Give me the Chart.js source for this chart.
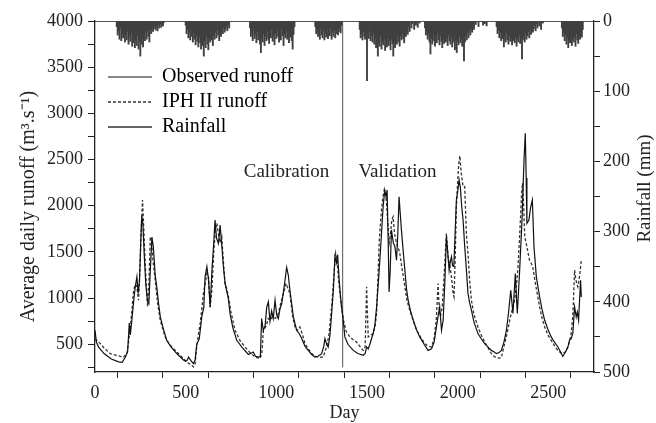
<!DOCTYPE html>
<html>
<head>
<meta charset="utf-8">
<script src="https://cdn.jsdelivr.net/npm/chart.js@4"></script>
<style>
  html, body { margin: 0; padding: 0; background: #fff; }
  #wrap { width: 656px; height: 423px; position: relative; }
</style>
</head>
<body>
<div id="wrap"><canvas id="chart"></canvas></div>
<script>
// observed runoff (day, m3/s)
const obsDay = [
  0, 8, 20, 50, 90, 130, 150, 167, 180, 189,
  195, 205, 215, 222, 231, 238, 245, 252, 258, 264,
  272, 280, 290, 297, 305, 314, 322, 332, 342, 350,
  360, 375, 396, 420, 451, 488, 500, 510, 516, 530,
  543, 552, 561, 575, 589, 600, 607, 617, 626, 635,
  645, 655, 662, 670, 681, 690, 700, 708, 718, 727,
  735, 745, 760, 782, 810, 846, 873, 885, 901, 912,
  919, 928, 938, 947, 956, 965, 974, 983, 993, 1002,
  1011, 1020, 1030, 1045, 1057, 1066, 1075, 1094, 1112, 1125,
  1140, 1158, 1176, 1195, 1213, 1230, 1250, 1262, 1268, 1278,
  1286, 1296, 1305, 1315, 1323, 1332, 1338, 1345, 1351, 1360,
  1369, 1378, 1395, 1424, 1450, 1479, 1490, 1498, 1507, 1516,
  1525, 1534, 1543, 1553, 1562, 1571, 1580, 1589, 1598, 1605,
  1611, 1617, 1622, 1628, 1635, 1645, 1654, 1663, 1670, 1677,
  1684, 1690, 1700, 1709, 1718, 1727, 1740, 1755, 1773, 1791,
  1815, 1837, 1856, 1870, 1883, 1892, 1901, 1911, 1920, 1930,
  1938, 1945, 1953, 1960, 1966, 1972, 1979, 1986, 1993, 2000,
  2008, 2015, 2022, 2030, 2039, 2045, 2057, 2066, 2076, 2090,
  2112, 2130, 2149, 2168, 2186, 2200, 2214, 2228, 2241, 2255,
  2269, 2281, 2293, 2305, 2318, 2329, 2342, 2355, 2366, 2373,
  2378, 2382, 2393, 2403, 2412, 2421, 2434, 2452, 2465, 2480,
  2498, 2516, 2535, 2553, 2567, 2580, 2590, 2599, 2608, 2617,
  2626, 2635, 2645, 2654, 2660, 2667, 2673, 2678, 2682
];
const obsQ = [
  650, 520, 470, 400, 340, 310, 305, 360, 420, 730,
  600, 800, 1000, 1120, 1230, 1050, 1180, 1600, 1890, 1800,
  1450, 1150, 960, 940, 1300, 1660, 1550, 1250, 1100, 950,
  800, 680, 540, 470, 400, 330, 316, 330, 362, 320,
  290, 330, 500, 560, 800, 900, 1230, 1340, 1200, 900,
  1300, 1600, 1845, 1650, 1590, 1790, 1550, 1340, 1150, 1070,
  1000, 830, 680, 543, 470, 390, 416, 370, 362, 370,
  778, 650, 700, 900, 960, 750, 860, 780, 977, 820,
  778, 880, 941, 1150, 1332, 1250, 1085, 796, 652, 620,
  562, 480, 434, 390, 362, 370, 399, 480, 562, 500,
  470, 600, 833, 1100, 1447, 1380, 1470, 1250, 1085, 900,
  760, 580, 500, 434, 400, 381, 400, 471, 450, 500,
  560, 616, 700, 904, 1150, 1411, 1700, 1989, 2170, 2100,
  2170, 1600, 1067, 1300, 1737, 1600, 1556, 1411, 1700, 2098,
  1900, 1737, 1500, 1302, 1100, 977, 860, 760, 660, 580,
  500, 434, 450, 520, 688, 800, 904, 652, 760, 1200,
  1664, 1500, 1302, 1400, 1447, 1350, 1340, 1700, 2062, 2150,
  2280, 2200, 2000, 1845, 1556, 1400, 1050, 950, 869, 740,
  616, 560, 507, 470, 434, 420, 399, 410, 434, 520,
  652, 850, 1085, 833, 1267, 833, 1302, 1845, 2496, 2785,
  2300, 1809, 1845, 1989, 2062, 1556, 1230, 1013, 880, 760,
  660, 580, 520, 471, 420, 370, 400, 434, 470, 543,
  560, 616, 904, 796, 850, 760, 1000, 1194, 1013
];

// IPH II simulated runoff
const simDay = [
  0, 10, 28, 50, 84, 121, 140, 158, 176, 193,
  205, 213, 222, 231, 240, 248, 255, 262, 268, 277,
  284, 290, 298, 305, 312, 320, 332, 345, 360, 387,
  410, 433, 460, 488, 506, 520, 534, 543, 552, 561,
  570, 580, 590, 598, 607, 617, 626, 635, 645, 655,
  664, 672, 680, 690, 699, 708, 717, 727, 736, 750,
  772, 800, 827, 855, 883, 910, 920, 929, 945, 955,
  965, 980, 995, 1011, 1025, 1039, 1054, 1065, 1075, 1090,
  1103, 1115, 1130, 1145, 1158, 1176, 1195, 1213, 1231, 1259,
  1268, 1277, 1290, 1305, 1316, 1327, 1335, 1343, 1351, 1360,
  1370, 1385, 1405, 1424, 1442, 1460, 1479, 1490, 1498, 1503,
  1507, 1520, 1534, 1545, 1553, 1560, 1567, 1574, 1580, 1588,
  1595, 1601, 1608, 1615, 1622, 1630, 1637, 1644, 1652, 1663,
  1672, 1681, 1695, 1709, 1720, 1736, 1755, 1773, 1795, 1819,
  1837, 1856, 1870, 1882, 1892, 1898, 1905, 1915, 1929, 1938,
  1947, 1957, 1966, 1975, 1980, 1986, 1993, 2000, 2006, 2012,
  2020, 2030, 2039, 2048, 2057, 2066, 2076, 2090, 2112, 2130,
  2149, 2168, 2186, 2200, 2214, 2228, 2241, 2259, 2273, 2287,
  2300, 2314, 2325, 2333, 2340, 2347, 2353, 2358, 2364, 2370,
  2382, 2396, 2405, 2414, 2432, 2452, 2466, 2480, 2498, 2516,
  2535, 2553, 2567, 2580, 2595, 2608, 2618, 2626, 2635, 2645,
  2652, 2658, 2663, 2670, 2676, 2682
];
const simQ = [
  560, 540, 510, 460, 399, 380, 370, 362, 399, 640,
  900, 1085, 1150, 1122, 977, 1300, 1750, 2062, 1800, 1375,
  1100, 904, 1200, 1664, 1600, 1400, 1194, 950, 760, 580,
  500, 453, 400, 345, 308, 290, 272, 254, 290, 471,
  600, 724, 900, 1050, 1150, 1267, 1230, 904, 1100, 1500,
  1750, 1809, 1700, 1600, 1663, 1400, 1158, 1100, 1013, 850,
  652, 540, 471, 410, 362, 345, 400, 652, 700, 780,
  760, 800, 780, 833, 950, 1050, 1158, 1100, 1050, 800,
  688, 650, 688, 600, 507, 450, 399, 370, 362, 362,
  420, 471, 600, 904, 1200, 1483, 1400, 1200, 1050, 900,
  760, 640, 580, 550, 525, 480, 434, 470, 1122, 800,
  580, 600, 616, 700, 833, 1200, 1592, 1800, 1953, 2100,
  2170, 2150, 2025, 1800, 1592, 1700, 1850, 1881, 1700, 1592,
  1550, 1483, 1300, 1122, 980, 869, 760, 652, 580, 507,
  480, 471, 560, 760, 1158, 900, 800, 900, 1375, 1700,
  1450, 1350, 1230, 1050, 1013, 1400, 1989, 2250, 2450, 2540,
  2350, 2207, 2207, 1700, 1483, 1200, 977, 820, 688, 600,
  525, 460, 399, 370, 355, 350, 355, 507, 620, 760,
  870, 977, 1150, 1340, 1600, 1881, 2150, 2243, 2000, 1664,
  1556, 1411, 1380, 1340, 1122, 904, 780, 688, 600, 543,
  480, 434, 410, 399, 420, 471, 540, 616, 800, 1302,
  1200, 1150, 1122, 1200, 1300, 1411
];

// rainfall (mm), one value every 5 days from the start day of each wet season
const rainStep = 5;
const rainStart = [120, 500, 855, 1215, 1460, 1820, 2215, 2575];
const rain1 = [8, 20, 14, 26, 10, 28, 18, 24, 12, 30, 19, 27, 15, 33, 22, 29, 17, 36, 24, 31,
  38, 27, 35, 21, 40, 29, 50, 33, 24, 37, 20, 28, 16, 26, 14, 22, 30, 12, 18, 9,
  15, 11, 6, 13, 8, 14, 5, 10, 4, 9, 3, 7, 2];
const rain2 = [6, 18, 12, 24, 15, 27, 10, 22, 30, 17, 26, 34, 20, 29, 37, 23, 31, 40, 26, 35,
  50, 28, 38, 22, 33, 41, 25, 30, 19, 27, 35, 21, 26, 16, 24, 13, 20, 28, 15, 22,
  11, 18, 9, 16, 12, 7, 14, 5, 10];
const rain3 = [10, 22, 16, 28, 13, 25, 19, 31, 14, 27, 21, 33, 45, 24, 30, 18, 35, 22, 28, 15,
  26, 32, 19, 24, 12, 29, 20, 34, 17, 25, 13, 22, 30, 16, 27, 11, 21, 35, 18, 24,
  14, 26, 20, 31, 15, 23, 28, 40, 19, 8];
const rain4 = [8, 18, 12, 22, 15, 26, 11, 20, 24, 14, 27, 17, 23, 12, 25, 19, 21, 10, 26, 16,
  22, 13, 24, 18, 11, 20, 15, 9, 17, 6];
const rain5 = [12, 24, 18, 27, 15, 22, 26, 20, 85, 19, 25, 14, 28, 21, 30, 17, 33, 24, 38, 27,
  50, 31, 36, 22, 40, 29, 34, 25, 42, 30, 37, 23, 35, 28, 41, 26, 32, 50, 29, 38,
  24, 33, 20, 30, 36, 22, 27, 18, 25, 31, 16, 22, 12, 19, 8, 15, 0, 10, 4, 0,
  12, 0, 6, 0, 9, 0, 3];
const rain6 = [10, 20, 15, 26, 18, 30, 47, 24, 33, 19, 28, 36, 22, 31, 17, 27, 34, 21, 29, 38,
  25, 32, 18, 30, 24, 35, 20, 28, 33, 23, 37, 26, 30, 41, 27, 45, 29, 34, 22, 31,
  26, 36, 24, 57, 30, 21, 27, 17, 24, 13, 20, 10, 16, 7, 12, 0, 5, 0, 0, 8,
  0, 0, 0, 0, 6, 0, 4, 0, 7];
const rain7 = [8, 18, 13, 24, 16, 28, 20, 25, 37, 22, 30, 17, 27, 33, 21, 29, 24, 34, 19, 28,
  31, 23, 36, 26, 30, 20, 32, 25, 54, 27, 22, 30, 18, 26, 21, 15, 24, 12, 19, 9,
  16, 11, 6, 14, 4, 10, 0, 7, 0, 12, 0, 3];
const rain8 = [10, 22, 16, 28, 20, 33, 24, 38, 27, 31, 19, 35, 25, 30, 22, 36, 18, 27, 32, 21,
  26, 15, 23, 12];
const rainSeasons = [rain1, rain2, rain3, rain4, rain5, rain6, rain7, rain8];

// axis ticks
const xMajor = [0, 500, 1000, 1500, 2000, 2500];
const xMinor = [250, 750, 1250, 1750, 2250, 2750];
const yMajor = [500, 1000, 1500, 2000, 2500, 3000, 3500, 4000];
const yMinor = [250, 750, 1250, 1750, 2250, 2750, 3250, 3750];
const rMajor = [0, 100, 200, 300, 400, 500];
const rMinor = [50, 150, 250, 350, 450];

// calibration / validation split
const splitDay = 1366;
const splitRange = [250, 4000];
const periodText = ['Calibration', 'Validation'];
const periodDay = [1056, 1668];
const periodQ = [2370, 2370];

const legendText = ['Observed runoff', 'IPH II runoff', 'Rainfall'];
const leftTitle = 'Average daily runoff (m³.s⁻¹)';
const rightTitle = 'Rainfall (mm)';

const SERIF = "'Liberation Serif', 'Times New Roman', serif";
Chart.defaults.font.family = SERIF;
Chart.defaults.color = '#222';

const rainPoints = [];
rainSeasons.forEach((vals, s) => {
  vals.forEach((v, i) => rainPoints.push({ x: rainStart[s] + i * rainStep, y: v }));
});

const toPts = (xs, ys) => xs.map((d, i) => ({ x: d, y: ys[i] }));
const setTicks = (major, minor) => s => {
  s.ticks = major.concat(minor).sort((a, b) => a - b).map(v => ({ value: v }));
};

// legend inside the plot, period labels and the two rotated axis titles
const extras = {
  id: 'extras',
  afterLayout(chart) {
    const lg = chart.legend, ca = chart.chartArea;
    lg.left = ca.left + 8;
    lg.right = lg.left + 250;
    lg.top = ca.top + 41;
    lg.bottom = ca.bottom;
  },
  afterDraw(chart) {
    const { ctx, scales } = chart;
    ctx.save();
    ctx.fillStyle = '#222';
    ctx.font = '19px ' + SERIF;
    ctx.textAlign = 'center';
    ctx.textBaseline = 'middle';
    periodText.forEach((t, i) => {
      ctx.fillText(t, scales.x.getPixelForValue(periodDay[i]), scales.y.getPixelForValue(periodQ[i]));
    });
    const r = scales.y2;
    ctx.save();
    ctx.translate(r.right - 11, (r.top + r.bottom) / 2 - 8);
    ctx.rotate(-Math.PI / 2);
    ctx.fillText(rightTitle, 0, 0);
    ctx.restore();
    const l = scales.y;
    ctx.font = '20px ' + SERIF;
    ctx.translate(l.left + 29, (l.top + l.bottom) / 2 + 10);
    ctx.rotate(-Math.PI / 2);
    ctx.fillText(leftTitle, 0, 0);
    ctx.restore();
  }
};

new Chart(document.getElementById('chart'), {
  type: 'line',
  data: {
    datasets: [
      {
        label: legendText[0],
        data: toPts(obsDay, obsQ),
        yAxisID: 'y',
        borderColor: '#111',
        borderWidth: 1.2,
        pointRadius: 0,
        tension: 0
      },
      {
        label: legendText[1],
        data: toPts(simDay, simQ),
        yAxisID: 'y',
        borderColor: '#333',
        borderWidth: 1.3,
        borderDash: [3, 2],
        pointRadius: 0,
        tension: 0
      },
      {
        label: legendText[2],
        type: 'bar',
        data: rainPoints,
        yAxisID: 'y2',
        backgroundColor: '#404040',
        borderWidth: 0,
        barThickness: 1.25
      },
      {
        label: 'split',
        data: [{ x: splitDay, y: splitRange[0] }, { x: splitDay, y: splitRange[1] }],
        yAxisID: 'y',
        borderColor: '#555',
        borderWidth: 1,
        pointRadius: 0
      }
    ]
  },
  options: {
    responsive: true,
    maintainAspectRatio: false,
    animation: false,
    layout: { padding: 0 },
    scales: {
      x: {
        type: 'linear', position: 'bottom', min: 0, max: 2752, offset: false,
        afterBuildTicks: setTicks(xMajor, xMinor),
        afterFit: s => { s.height = 51; },
        ticks: {
          autoSkip: false, maxRotation: 0, padding: 4, font: { size: 18 },
          callback: v => xMajor.includes(v) ? String(v) : ''
        },
        grid: { drawOnChartArea: false, tickLength: 6, color: '#222' },
        border: { color: '#222', width: 1.3 },
        title: { display: true, text: 'Day', font: { size: 18, lineHeight: 1.1 }, padding: { top: 0, bottom: 0 } }
      },
      xTop: {
        type: 'linear', position: 'top', min: 0, max: 1,
        afterFit: s => { s.height = 21; },
        ticks: { display: false },
        grid: { display: false, drawTicks: false },
        border: { display: true, color: '#555', width: 1 }
      },
      y: {
        type: 'linear', position: 'left', min: 200, max: 4000,
        afterBuildTicks: setTicks(yMajor, yMinor),
        afterFit: s => { s.width = 95; },
        ticks: {
          autoSkip: false, padding: 5, font: { size: 18 },
          callback: v => yMajor.includes(v) ? String(v) : ''
        },
        grid: { drawOnChartArea: false, tickLength: 7, color: '#222' },
        border: { color: '#222', width: 1.3 }
      },
      y2: {
        type: 'linear', position: 'right', min: 0, max: 500, reverse: true,
        afterBuildTicks: setTicks(rMajor, rMinor),
        afterFit: s => { s.width = 62; },
        ticks: {
          autoSkip: false, padding: 3, font: { size: 18 },
          callback: v => rMajor.includes(v) ? String(v) : ''
        },
        grid: { drawOnChartArea: false, tickLength: 6, color: '#222' },
        border: { color: '#222', width: 1.3 }
      }
    },
    plugins: {
      legend: {
        position: 'chartArea',
        align: 'start',
        labels: {
          boxWidth: 44, boxHeight: 0, padding: 5, font: { size: 20 }, color: '#222',
          generateLabels: () => legendText.map((t, i) => ({
            text: t,
            fillStyle: 'rgba(0,0,0,0)',
            strokeStyle: ['#111', '#333', '#333'][i],
            lineWidth: [1.2, 1.3, 1][i],
            lineDash: i === 1 ? [3, 2] : [],
            hidden: false,
            datasetIndex: i
          }))
        }
      },
      tooltip: { enabled: false }
    }
  },
  plugins: [extras]
});
</script>
</body>
</html>
